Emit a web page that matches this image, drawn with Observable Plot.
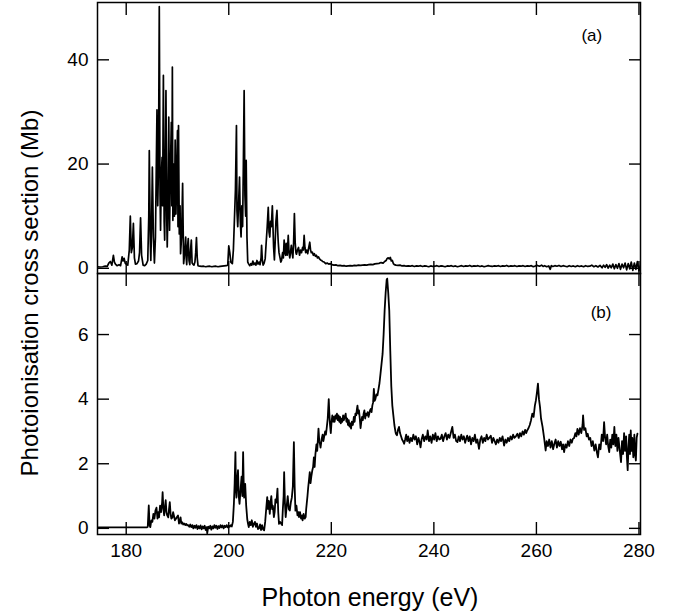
<!DOCTYPE html>
<html><head><meta charset="utf-8">
<script src="https://cdn.jsdelivr.net/npm/d3@7"></script>
<script src="https://cdn.jsdelivr.net/npm/@observablehq/plot@0.6"></script>
<style>
body{margin:0;background:#fff;}
#chart{position:relative;width:690px;height:616px;background:#fff;font-family:"Liberation Sans",Arial,Helvetica,sans-serif;color:#000;}
#chart svg{position:absolute;left:0;overflow:visible;}
#ytitle{position:absolute;left:30px;top:293px;transform:translate(-50%,-50%) rotate(-90deg);white-space:nowrap;font-size:24px;}
#xtitle{position:absolute;left:370px;top:597px;transform:translate(-50%,-50%);white-space:nowrap;font-size:25px;}
</style></head><body>
<div id="chart"><div id="ytitle">Photoionisation cross section (Mb)</div><div id="xtitle">Photon energy (eV)</div></div>
<script>
const xDomain = [174.4, 280.3];
const xTicks = [180, 200, 220, 240, 260, 280];
const yDomainA = [-1, 51];
const yTicksA = [0, 20, 40];
const yDomainB = [-0.19, 7.89];
const yTicksB = [0, 2, 4, 6];
const panelLabels = [
  {panel: "a", text: "(a)", x: 270.8, y: 44.6},
  {panel: "b", text: "(b)", x: 272.6, y: 6.69}
];

// Panel (a): [photon energy eV, cross section Mb]
const spectrumA = [
[174.4,0.3],[174.9,0.25],[175.4,0.3],[175.9,0.4],[176.3,0.35],[176.6,1.0],[176.9,1.3],[177.2,0.6],[177.5,2.5],[177.7,1.2],
[177.9,0.8],[178.2,0.5],[178.6,0.7],[178.9,0.5],[179.2,2.2],[179.4,1.4],[179.6,1.9],[179.8,1.0],[180.0,0.8],[180.3,0.6],
[180.6,3.5],[180.8,10.0],[181.0,3.0],[181.2,4.0],[181.4,8.6],[181.6,2.0],[181.8,0.8],[182.1,0.9],[182.4,1.4],[182.6,3.0],
[182.8,9.7],[183.0,2.5],[183.3,0.6],[183.6,0.5],[183.9,0.8],[184.2,1.5],[184.4,10.0],[184.5,22.6],[184.7,5.0],[184.8,1.5],
[184.95,8.0],[185.1,19.4],[185.3,6.0],[185.5,1.0],[185.7,6.0],[185.85,18.0],[186.0,30.4],[186.15,12.0],[186.3,20.0],[186.45,50.2],
[186.6,14.0],[186.7,7.3],[186.85,18.0],[187.0,21.3],[187.1,12.0],[187.25,37.0],[187.4,9.0],[187.5,5.4],[187.6,15.0],[187.75,34.1],
[187.9,10.0],[188.0,4.1],[188.15,12.0],[188.3,29.0],[188.45,7.3],[188.6,18.0],[188.8,28.0],[188.9,12.0],[189.0,38.6],[189.1,9.2],
[189.25,20.0],[189.4,10.0],[189.55,24.6],[189.7,10.4],[189.85,18.0],[190.0,26.4],[190.1,8.0],[190.2,27.4],[190.35,6.6],[190.5,12.0],
[190.6,2.8],[190.8,6.0],[191.0,16.3],[191.15,4.0],[191.2,0.9],[191.4,3.0],[191.6,6.0],[191.7,2.0],[191.8,0.7],[191.95,4.0],
[192.1,5.7],[192.25,1.5],[192.4,0.7],[192.55,3.5],[192.7,5.4],[192.85,1.0],[193.0,0.8],[193.2,0.6],[193.4,1.2],[193.55,3.0],
[193.7,5.9],[193.85,2.0],[194.0,0.5],[194.3,0.4],[194.7,0.35],[195.1,0.4],[195.5,0.3],[195.9,0.35],[196.3,0.4],[196.7,0.3],
[197.1,0.35],[197.5,0.4],[197.9,0.3],[198.3,0.35],[198.7,0.4],[199.1,0.45],[199.5,0.5],[199.8,0.6],[200.0,4.3],[200.2,3.0],
[200.4,1.2],[200.7,0.9],[200.9,3.5],[201.1,9.2],[201.3,15.0],[201.5,27.4],[201.6,11.0],[201.75,8.0],[201.9,12.0],[202.1,17.5],
[202.25,9.0],[202.4,6.0],[202.55,12.0],[202.7,8.0],[202.85,20.0],[203.0,34.1],[203.15,14.0],[203.3,10.0],[203.4,20.7],[203.55,6.0],
[203.7,1.2],[203.9,0.8],[204.1,0.5],[204.3,0.9],[204.5,0.6],[204.7,1.4],[204.9,0.7],[205.1,1.0],[205.3,0.6],[205.5,1.5],
[205.7,0.8],[205.9,1.2],[206.1,0.7],[206.3,2.0],[206.4,4.4],[206.55,1.5],[206.7,0.6],[206.9,1.0],[207.1,1.8],[207.3,5.0],
[207.5,8.0],[207.7,11.7],[207.85,7.0],[208.0,6.0],[208.15,9.0],[208.3,8.0],[208.5,12.0],[208.65,7.0],[208.75,4.0],[208.9,1.6],
[209.05,5.0],[209.2,9.0],[209.4,11.1],[209.55,7.0],[209.65,5.0],[209.8,3.0],[210.0,2.0],[210.15,1.2],[210.3,1.5],[210.5,3.0],
[210.65,2.0],[210.8,5.4],[210.95,3.0],[211.1,2.5],[211.2,4.8],[211.4,2.5],[211.6,6.3],[211.75,3.0],[211.9,2.0],[212.0,2.7],
[212.2,4.4],[212.35,3.0],[212.5,2.0],[212.65,5.0],[212.8,10.5],[212.95,5.0],[213.1,3.0],[213.2,2.7],[213.4,3.5],[213.6,4.0],
[213.8,2.5],[214.0,3.5],[214.2,3.0],[214.4,4.0],[214.55,3.5],[214.7,6.3],[214.85,4.0],[215.0,3.0],[215.2,3.5],[215.4,2.8],
[215.6,4.0],[215.8,5.0],[215.95,3.5],[216.1,3.0],[216.3,3.1],[216.5,2.5],[216.7,2.8],[216.9,2.3],[217.1,2.5],[217.3,2.0],
[217.5,2.2],[217.7,1.8],[217.9,1.6],[218.1,1.5],[218.3,1.3],[218.6,1.2],[218.9,0.9],[219.2,1.0],[219.5,0.8],[219.8,0.9],
[220.1,0.7],[220.5,0.6],[220.9,0.65],[221.3,0.5],[221.7,0.55],[222.1,0.45],[222.5,0.5],[222.9,0.4],[223.3,0.45],[223.7,0.5],
[224.1,0.45],[224.5,0.55],[224.9,0.5],[225.3,0.6],[225.7,0.55],[226.1,0.6],[226.5,0.65],[226.9,0.6],[227.3,0.7],[227.7,0.75],
[228.1,0.7],[228.5,0.85],[228.9,0.9],[229.3,0.95],[229.7,1.1],[230.1,1.0],[230.4,1.3],[230.7,1.5],[230.9,1.9],[231.1,2.0],
[231.3,1.8],[231.5,2.1],[231.7,1.4],[231.9,1.5],[232.1,0.9],[232.3,0.7],[232.6,0.6],[233.0,0.55],[233.4,0.6],[233.8,0.45],
[234.2,0.5],[234.6,0.4],[235.0,0.45],[235.4,0.4],[235.8,0.5],[236.2,0.35],[236.6,0.45],[237.0,0.4],[237.4,0.5],[237.8,0.35],
[238.2,0.45],[238.6,0.4],[239.0,0.3],[239.4,0.45],[239.8,0.35],[240.2,0.4],[240.6,0.5],[241.0,0.35],[241.4,0.45],[241.8,0.4],
[242.2,0.3],[242.6,0.45],[243.0,0.4],[243.4,0.5],[243.8,0.35],[244.2,0.45],[244.6,0.3],[245.0,0.4],[245.4,0.5],[245.8,0.35],
[246.2,0.45],[246.6,0.4],[247.0,0.55],[247.4,0.35],[247.8,0.45],[248.2,0.4],[248.6,0.5],[249.0,0.35],[249.4,0.45],[249.8,0.3],
[250.2,0.4],[250.6,0.5],[251.0,0.4],[251.4,0.35],[251.8,0.45],[252.2,0.4],[252.6,0.5],[253.0,0.35],[253.4,0.45],[253.8,0.4],
[254.2,0.55],[254.6,0.35],[255.0,0.45],[255.4,0.4],[255.8,0.5],[256.2,0.35],[256.6,0.45],[257.0,0.4],[257.4,0.5],[257.8,0.35],
[258.2,0.45],[258.6,0.4],[259.0,0.5],[259.4,0.3],[259.8,0.45],[260.2,0.55],[260.6,0.4],[261.0,0.6],[261.3,0.35],[261.6,0.5],
[262.0,0.3],[262.4,0.45],[262.7,-0.2],[262.9,0.5],[263.2,0.35],[263.6,0.5],[264.0,0.4],[264.4,0.55],[264.8,0.35],[265.2,0.5],
[265.6,0.4],[266.0,0.3],[266.4,0.5],[266.8,0.35],[267.2,0.45],[267.6,0.3],[268.0,0.5],[268.4,0.35],[268.8,0.45],[269.2,0.3],
[269.6,0.5],[270.0,0.35],[270.4,0.4],[270.8,0.6],[271.2,0.3],[271.6,0.5],[272.0,0.25],[272.4,0.55],[272.8,0.1],[273.1,0.6],
[273.4,0.2],[273.7,0.7],[274.0,0.05],[274.3,0.6],[274.6,0.1],[274.9,0.8],[275.2,-0.1],[275.5,0.7],[275.8,0.0],[276.1,0.9],
[276.4,-0.2],[276.7,0.8],[277.0,0.1],[277.3,1.0],[277.6,-0.3],[277.9,0.9],[278.2,-0.1],[278.5,1.2],[278.8,-0.4],[279.1,1.0],
[279.4,-0.2],[279.7,1.3],[280.0,-0.5],[280.3,0.6]
];

// Panel (b): [photon energy eV, cross section Mb]
const spectrumB = [
[174.6,0.03],[176.0,0.03],[178.0,0.03],[180.0,0.03],[182.0,0.03],[184.0,0.03],[184.2,0.05],[184.4,0.71],[184.55,0.1],[184.7,0.04],
[184.9,0.25],[185.1,0.2],[185.3,0.45],[185.5,0.3],[185.7,0.55],[185.9,0.64],[186.1,0.3],[186.25,0.5],[186.4,0.34],[186.6,0.7],
[186.8,0.5],[187.0,0.8],[187.1,1.12],[187.25,0.6],[187.4,0.4],[187.55,0.65],[187.7,0.87],[187.85,0.5],[188.0,0.4],[188.2,0.34],
[188.35,0.6],[188.5,0.81],[188.65,0.45],[188.8,0.3],[189.0,0.34],[189.15,0.5],[189.3,0.4],[189.5,0.25],[189.7,0.3],[189.9,0.35],
[190.1,0.4],[190.3,0.15],[190.5,0.25],[190.6,0.34],[190.75,0.15],[190.9,0.19],[191.1,0.12],[191.3,0.15],[191.5,0.1],[191.7,0.14],
[191.9,0.09],[192.1,0.1],[192.3,0.05],[192.5,0.12],[192.7,0.04],[192.9,0.1],[193.1,0.0],[193.3,0.08],[193.5,0.02],[193.7,0.1],
[193.9,-0.02],[194.1,0.07],[194.3,0.0],[194.5,0.09],[194.7,-0.03],[194.9,0.06],[195.1,0.0],[195.3,0.08],[195.5,-0.05],[195.7,0.04],
[195.8,-0.15],[196.0,0.05],[196.2,0.0],[196.4,0.08],[196.6,-0.04],[196.8,0.06],[197.0,0.0],[197.2,0.1],[197.4,0.02],[197.6,0.08],
[197.8,-0.02],[198.0,0.07],[198.2,0.01],[198.4,0.1],[198.6,0.03],[198.8,0.09],[199.0,0.0],[199.2,0.08],[199.4,0.04],[199.6,0.1],
[199.8,0.03],[200.0,0.08],[200.2,0.05],[200.4,0.1],[200.6,0.06],[200.8,0.2],[201.0,0.76],[201.15,1.4],[201.3,2.36],[201.4,1.2],
[201.5,0.95],[201.65,1.5],[201.8,1.8],[201.95,1.0],[202.1,0.76],[202.3,1.2],[202.5,1.6],[202.65,1.0],[202.8,2.36],[202.9,1.5],
[203.0,0.95],[203.1,1.1],[203.2,1.38],[203.4,0.7],[203.6,0.29],[203.75,0.15],[203.9,0.04],[204.1,0.2],[204.3,0.1],[204.5,0.25],
[204.7,0.05],[204.9,0.14],[205.1,0.2],[205.3,0.05],[205.5,0.15],[205.7,-0.02],[205.9,0.0],[206.1,0.12],[206.3,-0.05],[206.5,0.1],
[206.7,-0.03],[206.9,-0.06],[207.1,0.2],[207.3,0.6],[207.5,0.97],[207.65,0.6],[207.8,0.85],[208.0,0.45],[208.15,0.8],[208.3,1.0],
[208.45,0.6],[208.6,0.7],[208.8,0.35],[208.95,0.5],[209.1,0.9],[209.3,0.8],[209.5,1.23],[209.65,0.5],[209.8,0.14],[210.0,0.2],
[210.2,0.15],[210.4,0.1],[210.55,0.6],[210.7,1.0],[210.8,1.74],[210.95,0.8],[211.1,0.35],[211.3,0.7],[211.5,1.0],[211.7,0.6],
[211.9,0.55],[212.1,0.8],[212.3,0.95],[212.5,1.3],[212.6,2.0],[212.7,2.67],[212.85,1.3],[213.0,0.55],[213.2,0.7],[213.4,0.4],
[213.6,0.5],[213.7,0.35],[213.9,0.5],[214.1,0.3],[214.3,0.4],[214.4,0.25],[214.6,0.45],[214.8,0.3],[215.0,0.35],[215.1,0.6],
[215.2,0.76],[215.35,1.0],[215.5,1.28],[215.65,1.5],[215.8,1.74],[215.95,1.4],[216.1,1.6],[216.3,1.8],[216.45,1.9],[216.6,2.2],
[216.75,1.9],[216.9,2.3],[217.1,2.6],[217.25,2.4],[217.4,2.8],[217.5,3.09],[217.65,2.7],[217.8,2.6],[217.9,2.5],[218.1,2.75],
[218.3,2.9],[218.45,2.7],[218.6,2.83],[218.8,3.0],[218.95,2.9],[219.1,3.1],[219.3,3.4],[219.5,4.0],[219.6,3.6],[219.75,3.2],
[219.9,2.95],[220.05,3.3],[220.2,3.5],[220.35,3.3],[220.5,3.45],[220.65,3.3],[220.8,3.5],[220.95,3.4],[221.1,3.55],[221.25,3.35],
[221.4,3.5],[221.55,3.3],[221.7,3.45],[221.85,3.25],[222.0,3.4],[222.15,3.3],[222.3,3.5],[222.45,3.35],[222.6,3.45],[222.8,3.55],
[222.95,3.3],[223.1,3.4],[223.25,3.2],[223.4,3.35],[223.55,3.15],[223.7,3.25],[223.85,3.09],[224.0,3.3],[224.2,3.2],[224.4,3.45],
[224.55,3.3],[224.7,3.55],[224.85,3.5],[225.0,3.7],[225.1,3.8],[225.25,3.55],[225.4,3.65],[225.55,3.4],[225.7,3.1],[225.85,3.3],
[226.0,3.45],[226.15,3.35],[226.3,3.55],[226.45,3.65],[226.6,3.4],[226.75,3.55],[226.9,3.5],[227.1,3.6],[227.25,3.45],[227.4,3.55],
[227.55,3.65],[227.7,3.7],[227.85,3.6],[228.0,3.8],[228.15,3.9],[228.3,4.32],[228.45,3.95],[228.6,4.0],[228.8,4.15],[229.0,4.12],
[229.2,4.3],[229.4,4.5],[229.6,4.8],[229.8,5.1],[230.0,5.4],[230.2,6.0],[230.4,6.75],[230.6,7.3],[230.8,7.7],[230.9,7.73],
[231.1,7.3],[231.3,6.75],[231.5,5.5],[231.7,4.4],[231.9,3.8],[232.1,3.5],[232.3,3.2],[232.5,3.0],[232.6,2.93],[232.8,2.88],
[233.0,3.05],[233.2,3.14],[233.4,2.95],[233.6,2.85],[233.8,2.75],[234.0,2.7],[234.2,2.62],[234.4,2.75],[234.6,2.9],[234.8,2.7],
[235.0,2.85],[235.25,2.65],[235.5,2.8],[235.75,2.7],[236.0,2.9],[236.25,2.75],[236.5,2.85],[236.75,2.6],[237.0,2.8],[237.25,2.65],
[237.4,2.51],[237.6,2.75],[237.85,2.9],[238.1,2.7],[238.35,2.85],[238.6,2.75],[238.8,3.03],[239.05,2.7],[239.3,2.85],[239.55,2.65],
[239.8,2.9],[240.05,2.75],[240.3,2.95],[240.55,2.7],[240.8,2.85],[241.05,2.75],[241.3,2.77],[241.55,2.9],[241.8,2.7],[242.05,2.85],
[242.3,2.95],[242.55,2.75],[242.8,2.9],[243.05,2.8],[243.3,2.95],[243.6,3.14],[243.85,2.8],[244.1,2.9],[244.35,2.7],[244.6,2.67],
[244.85,2.85],[245.1,2.7],[245.35,2.9],[245.6,2.75],[245.85,2.85],[246.1,2.65],[246.35,2.8],[246.5,2.87],[246.75,2.7],[247.0,2.85],
[247.25,2.6],[247.5,2.8],[247.75,2.7],[248.0,2.9],[248.25,2.65],[248.5,2.75],[248.8,2.46],[249.05,2.75],[249.3,2.85],[249.55,2.65],
[249.8,2.8],[250.05,2.7],[250.3,2.9],[250.55,2.75],[250.8,2.8],[251.1,2.87],[251.35,2.65],[251.6,2.8],[251.85,2.7],[252.1,2.6],
[252.35,2.75],[252.6,2.65],[252.85,2.8],[253.1,2.7],[253.4,2.85],[253.7,2.56],[253.95,2.75],[254.2,2.65],[254.45,2.8],[254.7,2.7],
[254.95,2.85],[255.2,2.75],[255.45,2.9],[255.7,2.8],[256.0,2.85],[256.3,2.93],[256.55,2.8],[256.8,2.95],[257.05,2.85],[257.3,3.0],
[257.55,2.9],[257.8,3.05],[258.0,2.95],[258.2,3.03],[258.45,3.1],[258.7,3.2],[258.95,3.35],[259.2,3.55],[259.45,3.45],[259.7,3.8],
[259.9,3.96],[260.1,4.2],[260.3,4.48],[260.5,4.0],[260.7,3.76],[260.9,3.4],[261.2,3.14],[261.5,2.8],[261.8,2.41],[262.0,2.7],
[262.25,2.55],[262.5,2.75],[262.75,2.5],[263.0,2.7],[263.25,2.45],[263.5,2.62],[263.75,2.75],[264.0,2.5],[264.25,2.7],[264.5,2.55],
[264.75,2.68],[265.0,2.45],[265.2,2.6],[265.4,2.36],[265.65,2.6],[265.9,2.5],[266.15,2.7],[266.4,2.55],[266.65,2.75],[266.9,2.65],
[267.1,2.77],[267.35,2.8],[267.6,2.95],[267.8,2.85],[268.0,3.08],[268.25,2.9],[268.5,3.1],[268.75,2.95],[269.0,3.2],[269.1,3.5],
[269.3,3.05],[269.55,3.1],[269.8,2.85],[270.0,2.93],[270.25,2.75],[270.5,2.8],[270.75,2.55],[271.0,2.7],[271.3,2.41],[271.55,2.6],
[271.8,2.35],[272.0,2.2],[272.25,2.6],[272.5,2.45],[272.75,2.9],[273.0,2.7],[273.2,3.29],[273.4,2.8],[273.6,2.6],[273.8,2.9],
[274.0,2.55],[274.2,2.36],[274.4,2.75],[274.6,2.5],[274.8,2.9],[275.0,2.6],[275.2,3.14],[275.4,2.55],[275.6,2.9],[275.8,2.4],
[276.0,2.8],[276.2,2.5],[276.5,2.05],[276.7,2.7],[276.9,2.3],[277.1,2.95],[277.3,2.4],[277.5,2.85],[277.65,2.2],[277.8,1.8],
[277.95,2.5],[278.1,2.9],[278.25,2.3],[278.4,3.03],[278.55,2.4],[278.7,2.8],[278.9,2.2],[279.1,2.9],[279.25,2.3],[279.4,2.1],
[279.55,2.8],[279.7,2.93]
];

const toRows = (arr) => arr.map(([e, s]) => ({e, s}));
const chart = document.getElementById("chart");
const ink = "#000";

function frameMarks(yTicks) {
  const blank = () => "";
  return [
    Plot.axisY(yTicks, {anchor: "left", tickSize: 0, tickPadding: 9, fontSize: 19, label: null}),
    Plot.axisY(yTicks, {anchor: "left", tickSize: -12, tickFormat: blank, label: null, strokeWidth: 1.4}),
    Plot.axisY(yTicks, {anchor: "right", tickSize: -12, tickFormat: blank, label: null, strokeWidth: 1.4}),
    Plot.axisX(xTicks, {anchor: "top", tickSize: -12, tickFormat: blank, label: null, strokeWidth: 1.4}),
    Plot.axisX(xTicks, {anchor: "bottom", tickSize: -12, tickFormat: blank, label: null, strokeWidth: 1.4})
  ];
}

const common = {
  width: 690,
  marginLeft: 97,
  marginRight: 50,
  style: {background: "transparent", overflow: "visible", fontFamily: "'Liberation Sans', Arial, sans-serif", color: ink},
  x: {domain: xDomain, axis: null}
};

const plotA = Plot.plot({
  ...common,
  height: 274,
  marginTop: 2,
  marginBottom: 1,
  y: {domain: yDomainA, axis: null},
  marks: [
    ...frameMarks(yTicksA),
    Plot.line(toRows(spectrumA), {x: "e", y: "s", stroke: ink, strokeWidth: 1.7, clip: true}),
    Plot.text(panelLabels.filter(d => d.panel === "a"), {x: "x", y: "y", text: "text", fontSize: 17, fill: ink}),
    Plot.frame({stroke: ink, strokeWidth: 1.5})
  ]
});
plotA.style.top = "0px";

const plotB = Plot.plot({
  ...common,
  height: 344,
  marginTop: 1,
  marginBottom: 82,
  y: {domain: yDomainB, axis: null},
  marks: [
    ...frameMarks(yTicksB),
    Plot.axisX(xTicks, {anchor: "bottom", tickSize: 0, tickPadding: 9, fontSize: 19, label: null}),
    Plot.line(toRows(spectrumB), {x: "e", y: "s", stroke: ink, strokeWidth: 1.8, clip: true}),
    Plot.text(panelLabels.filter(d => d.panel === "b"), {x: "x", y: "y", text: "text", fontSize: 17, fill: ink}),
    Plot.frame({stroke: ink, strokeWidth: 1.5})
  ]
});
plotB.style.top = "272px";

chart.appendChild(plotA);
chart.appendChild(plotB);
</script>
</body></html>
